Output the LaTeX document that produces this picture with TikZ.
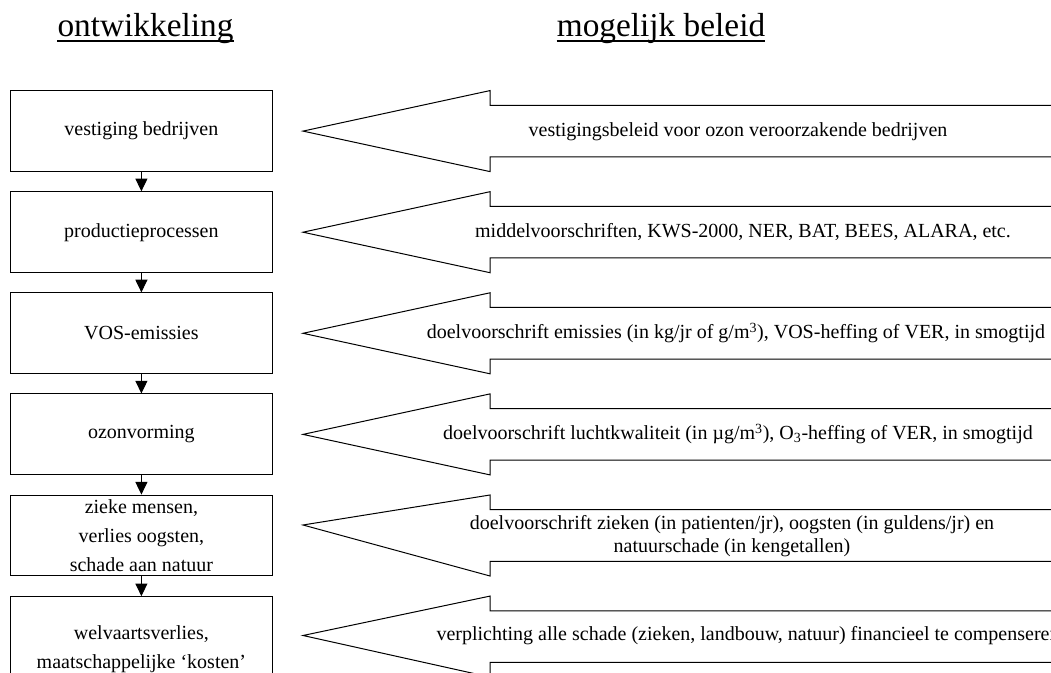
\documentclass[tikz,border=0pt]{standalone}
\usepackage{fontspec}
\setmainfont{Liberation Serif}
\usetikzlibrary{arrows.meta}
\begin{document}
\begin{tikzpicture}[x=0.75pt,y=-0.75pt,
  box/.style={draw, line width=0.75pt, minimum width=197pt, minimum height=60.6pt,
    inner sep=0pt, align=center, font=\fontsize{15}{22}\selectfont},
  lbl/.style={inner sep=0pt, align=center, font=\fontsize{15}{17.5}\selectfont},
  ttl/.style={inner sep=0pt, anchor=base, font=\fontsize{25}{30}\selectfont},
  flow/.style={line width=0.75pt, -{Triangle[length=9.5pt,width=9pt]}},
  big/.style={draw, line width=0.75pt, fill=white, line join=miter},
  uline/.style={line width=1.5pt}
]
\useasboundingbox (0,0) rectangle (1051,673);
\clip (0,0) rectangle (1051,673);

% titles
\node[ttl] (h1) at (145.5,36.7) {ontwikkeling};
\node[ttl] (h2) at (661,36.7) {mogelijk beleid};
\draw[uline] ([yshift=-3pt]h1.base west) -- ([yshift=-3pt]h1.base east);
\draw[uline] ([yshift=-3pt]h2.base west) -- ([yshift=-3pt]h2.base east);

% big policy arrows
\foreach \c/\t in {131.1/131.1, 232.2/232.2, 333.3/333.3, 434.4/434.4, 535.5/525, 636.6/635.5} {
  \draw[big] (303,\t) -- (490,\c-40.5) -- (490,\c-25.8) -- (1100,\c-25.8)
     -- (1100,\c+25.8) -- (490,\c+25.8) -- (490,\c+40.5) -- cycle;
}

% development boxes
\node[box] (b1) at (141.4,131.1) {vestiging bedrijven};
\node[box] (b2) at (141.4,232.2) {productieprocessen};
\node[box] (b3) at (141.4,333.3) {VOS-emissies};
\node[box] (b4) at (141.4,434.4) {ozonvorming};
\node[box] (b5) at (141.4,535.5) {zieke mensen,\\verlies oogsten,\\schade aan natuur};
\node[box, minimum height=78.5pt, anchor=north] (b6) at (141.4,596.2) {welvaartsverlies,\\maatschappelijke ‘kosten’};

\draw[flow] (b1.south) -- (b2.north);
\draw[flow] (b2.south) -- (b3.north);
\draw[flow] (b3.south) -- (b4.north);
\draw[flow] (b4.south) -- (b5.north);
\draw[flow] (b5.south) -- (b6.north);

% policy texts
\node[lbl, anchor=base] (t1) at (738,137) {vestigingsbeleid voor ozon veroorzakende bedrijven};
\node[lbl, anchor=base] (t2) at (743,238) {middelvoorschriften, KWS-2000, NER, BAT, BEES, ALARA, etc.};
\node[lbl, anchor=base] (t3) at (736,339) {doelvoorschrift emissies (in kg/jr of g/m\textsuperscript{3}), VOS-heffing of VER, in smogtijd};
\node[lbl, anchor=base] (t4) at (738,440) {doelvoorschrift luchtkwaliteit (in µg/m\textsuperscript{3}), O\textsubscript{3}-heffing of VER, in smogtijd};
\node[lbl] (t5) at (732,536) {doelvoorschrift zieken (in patienten/jr), oogsten (in guldens/jr) en\\natuurschade (in kengetallen)};
\node[lbl, anchor=base] (t6) at (748,641) {verplichting alle schade (zieken, landbouw, natuur) financieel te compenseren};
\end{tikzpicture}
\end{document}
